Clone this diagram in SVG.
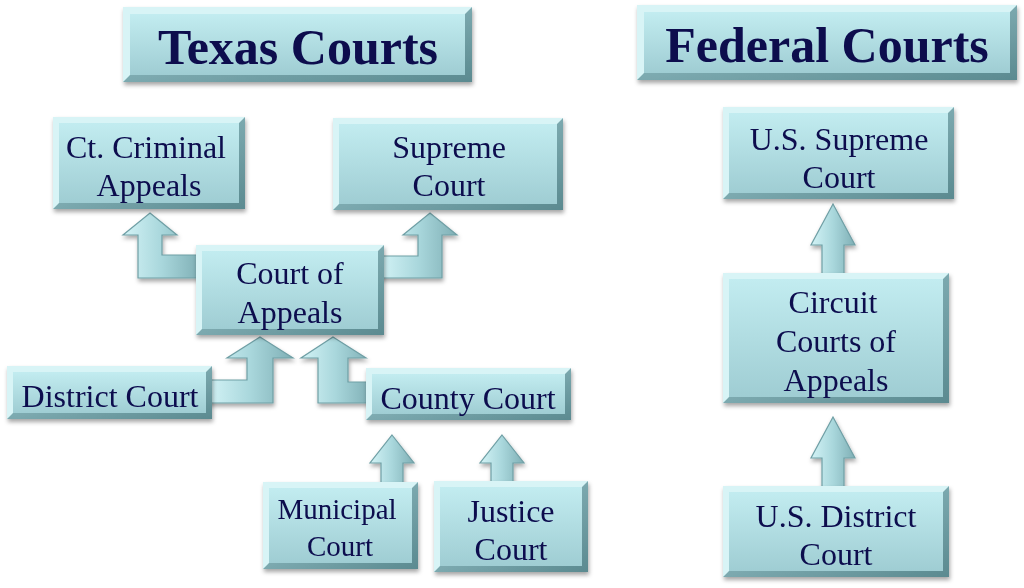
<svg xmlns="http://www.w3.org/2000/svg" width="1024" height="588" viewBox="0 0 1024 588">
<defs>
<linearGradient id="face" x1="0" y1="0" x2="0" y2="1">
<stop offset="0" stop-color="#c2ecf0"/>
<stop offset="1" stop-color="#9fcdd3"/>
</linearGradient>
<linearGradient id="edge" x1="0" y1="0" x2="1" y2="1">
<stop offset="0" stop-color="#9cc8ce"/>
<stop offset="1" stop-color="#5b8a90"/>
</linearGradient>
<linearGradient id="arr" x1="0" y1="0" x2="1" y2="0">
<stop offset="0" stop-color="#d3f3f6"/>
<stop offset="0.5" stop-color="#a9d7dc"/>
<stop offset="1" stop-color="#7fafb5"/>
</linearGradient>
<filter id="sh" x="-10%" y="-10%" width="125%" height="130%">
<feDropShadow dx="1" dy="3" stdDeviation="2" flood-color="#000" flood-opacity="0.35"/>
</filter>
</defs>
<style>
.node{filter:url(#sh)}
.edge{fill:url(#edge)}
.hl{fill:#d8f4f6}
.face{fill:url(#face)}
.t{font-family:"Liberation Serif","Times New Roman",serif;font-size:32px;fill:#0b0b4e;text-anchor:middle}
.ttl{font-family:"Liberation Serif","Times New Roman",serif;font-size:50px;font-weight:bold;fill:#0b0b4e;text-anchor:middle}
.a{fill:url(#arr);stroke:#6f9fa5;stroke-width:1.2;stroke-linejoin:miter}
</style>
<rect width="1024" height="588" fill="#ffffff"/>

<g id="connectors" filter="url(#sh)">
<path class="a" d="M150,213 L177,235 L162,235 L162,255 L200,255 L200,278 L138,278 L138,235 L123,235 Z"/>
<path class="a" d="M430,213 L457,235 L442,235 L442,278 L380,278 L380,256 L418,256 L418,235 L403,235 Z"/>
<path class="a" d="M260,337 L293,358 L273,358 L273,403 L208,403 L208,380 L247,380 L247,358 L227,358 Z"/>
<path class="a" d="M333,337 L366,358 L348,358 L348,382 L370,382 L370,403 L318,403 L318,358 L301,358 Z"/>
<path class="a" d="M392,435 L414,463 L403,463 L403,485 L381,485 L381,463 L370,463 Z"/>
<path class="a" d="M502,435 L524,463 L513,463 L513,484 L491,484 L491,463 L480,463 Z"/>
<path class="a" d="M833,204 L855,245 L844,245 L844,276 L822,276 L822,245 L811,245 Z"/>
<path class="a" d="M833,417 L855,458 L844,458 L844,489 L822,489 L822,458 L811,458 Z"/>
</g>

<g id="title-texas" class="node">
<rect class="edge" x="123" y="7" width="349" height="75"/>
<polygon class="hl" points="123,7 472,7 465,14 130,14 130,75 123,82"/>
<rect class="face" x="130" y="14" width="335" height="61"/>
<text class="ttl" x="298" y="64">Texas Courts</text>
</g>

<g id="title-federal" class="node">
<rect class="edge" x="637" y="5" width="380" height="75"/>
<polygon class="hl" points="637,5 1017,5 1010,12 644,12 644,73 637,80"/>
<rect class="face" x="644" y="12" width="366" height="61"/>
<text class="ttl" x="827" y="62">Federal Courts</text>
</g>

<g id="ct-criminal-appeals" class="node">
<rect class="edge" x="53" y="117" width="192" height="92"/>
<polygon class="hl" points="53,117 245,117 239,123 59,123 59,203 53,209"/>
<rect class="face" x="59" y="123" width="180" height="80"/>
<text class="t" x="146" y="158">Ct. Criminal</text>
<text class="t" x="149" y="196">Appeals</text>
</g>

<g id="supreme-court" class="node">
<rect class="edge" x="333" y="118" width="230" height="92"/>
<polygon class="hl" points="333,118 563,118 557,124 339,124 339,204 333,210"/>
<rect class="face" x="339" y="124" width="218" height="80"/>
<text class="t" x="449" y="158">Supreme</text>
<text class="t" x="449" y="196">Court</text>
</g>

<g id="court-of-appeals" class="node">
<rect class="edge" x="196" y="245" width="188" height="90"/>
<polygon class="hl" points="196,245 384,245 378,251 202,251 202,329 196,335"/>
<rect class="face" x="202" y="251" width="176" height="78"/>
<text class="t" x="290" y="284">Court of</text>
<text class="t" x="290" y="323">Appeals</text>
</g>

<g id="district-court" class="node">
<rect class="edge" x="7" y="366" width="205" height="53"/>
<polygon class="hl" points="7,366 212,366 206,372 13,372 13,413 7,419"/>
<rect class="face" x="13" y="372" width="193" height="41"/>
<text class="t" x="110" y="407">District Court</text>
</g>

<g id="county-court" class="node">
<rect class="edge" x="366" y="368" width="205" height="52"/>
<polygon class="hl" points="366,368 571,368 565,374 372,374 372,414 366,420"/>
<rect class="face" x="372" y="374" width="193" height="40"/>
<text class="t" x="468" y="409">County Court</text>
</g>

<g id="municipal-court" class="node">
<rect class="edge" x="263" y="482" width="155" height="87"/>
<polygon class="hl" points="263,482 418,482 412,488 269,488 269,563 263,569"/>
<rect class="face" x="269" y="488" width="143" height="75"/>
<text class="t" x="337" y="519" style="font-size:29px">Municipal</text>
<text class="t" x="340" y="556" style="font-size:29px">Court</text>
</g>

<g id="justice-court" class="node">
<rect class="edge" x="434" y="481" width="154" height="91"/>
<polygon class="hl" points="434,481 588,481 582,487 440,487 440,566 434,572"/>
<rect class="face" x="440" y="487" width="142" height="79"/>
<text class="t" x="511" y="522">Justice</text>
<text class="t" x="511" y="560">Court</text>
</g>

<g id="us-supreme-court" class="node">
<rect class="edge" x="723" y="107" width="231" height="92"/>
<polygon class="hl" points="723,107 954,107 948,113 729,113 729,193 723,199"/>
<rect class="face" x="729" y="113" width="219" height="80"/>
<text class="t" x="839" y="150">U.S. Supreme</text>
<text class="t" x="839" y="188">Court</text>
</g>

<g id="circuit-courts-of-appeals" class="node">
<rect class="edge" x="723" y="273" width="226" height="130"/>
<polygon class="hl" points="723,273 949,273 943,279 729,279 729,397 723,403"/>
<rect class="face" x="729" y="279" width="214" height="118"/>
<text class="t" x="833" y="313">Circuit</text>
<text class="t" x="836" y="352">Courts of</text>
<text class="t" x="836" y="391">Appeals</text>
</g>

<g id="us-district-court" class="node">
<rect class="edge" x="723" y="486" width="226" height="91"/>
<polygon class="hl" points="723,486 949,486 943,492 729,492 729,571 723,577"/>
<rect class="face" x="729" y="492" width="214" height="79"/>
<text class="t" x="836" y="527">U.S. District</text>
<text class="t" x="836" y="565">Court</text>
</g>
</svg>
